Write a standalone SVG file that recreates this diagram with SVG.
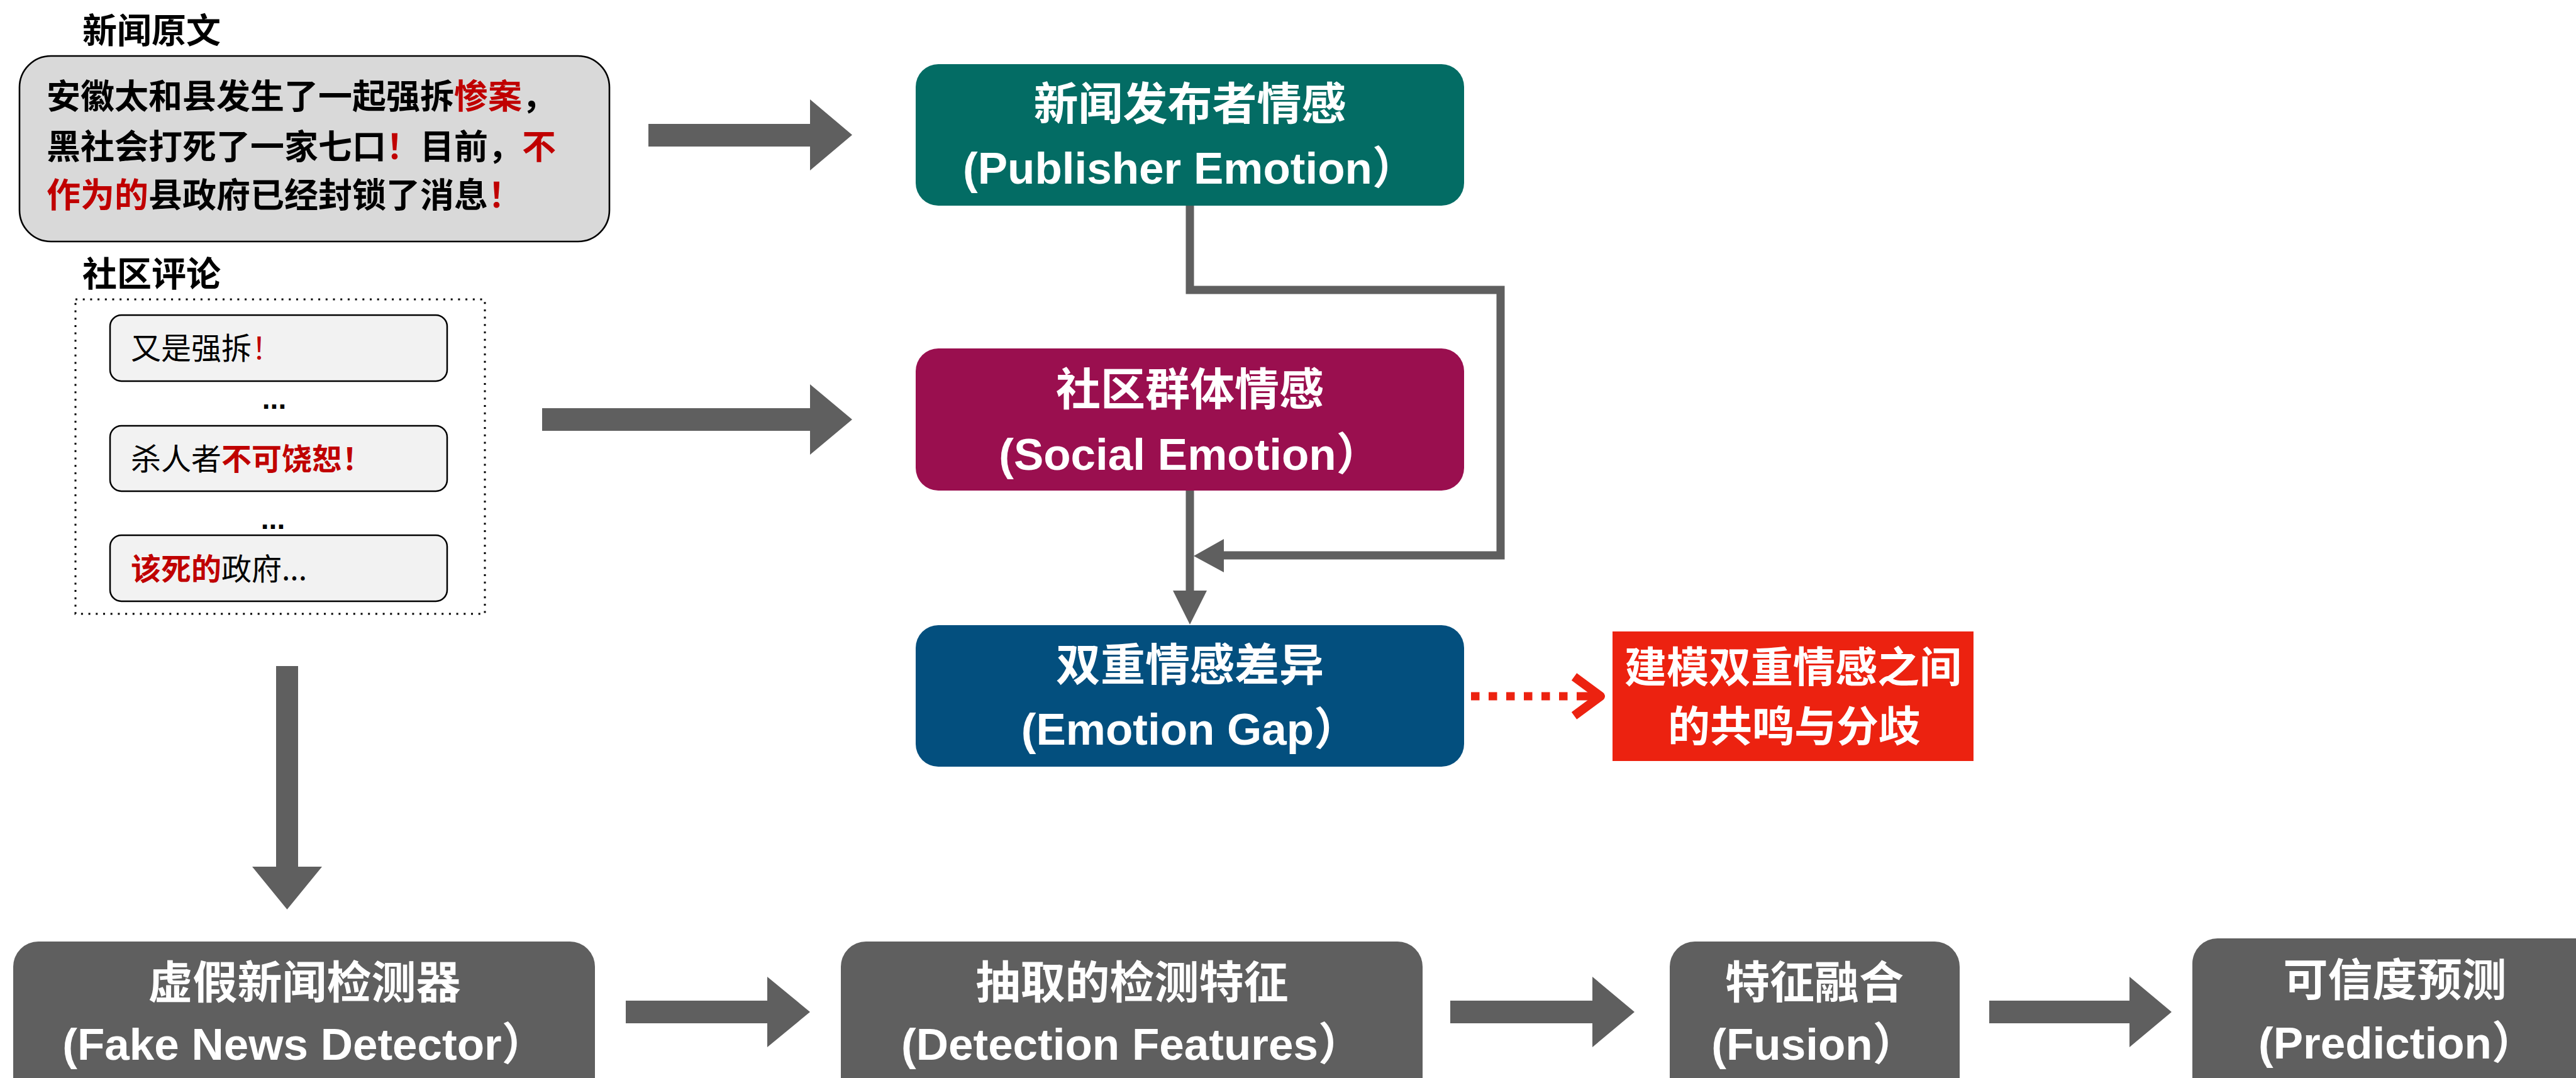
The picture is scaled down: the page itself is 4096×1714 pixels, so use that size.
<svg xmlns="http://www.w3.org/2000/svg" width="4096" height="1714" viewBox="0 0 4096 1714">
<style>
.lbl{font-family:"Noto Sans CJK SC",sans-serif;font-weight:bold;font-size:55px;fill:#000}
.news{font-family:"Noto Sans CJK SC",sans-serif;font-weight:bold;font-size:54px;fill:#000}
.red{fill:#c00000}
.cmt{font-family:"Noto Sans CJK SC",sans-serif;font-size:48px;fill:#000}
.cmtb{font-weight:bold;fill:#c00000}
.dots{font-family:"Liberation Sans",sans-serif;font-weight:bold;font-size:46px;fill:#000;text-anchor:middle}
.t{font-family:"Liberation Sans","Noto Sans CJK SC",sans-serif;font-weight:bold;font-size:71px;fill:#fff;text-anchor:middle}
.t2{font-family:"Liberation Sans","Noto Sans CJK SC",sans-serif;font-weight:bold;font-size:67px;fill:#fff;text-anchor:middle}
.cbox{fill:#f2f2f2;stroke:#000;stroke-width:2.5}
.big{fill:#5f5f5f}
.conn{fill:none;stroke:#5f5f5f;stroke-width:13;stroke-linejoin:miter}
</style>
<rect width="4096" height="1714" fill="#fff"/>

<g id="news">
<text class="lbl" x="131" y="68">新闻原文</text>
<rect x="31" y="89" width="938" height="295" rx="50" fill="#d9d9d9" stroke="#000" stroke-width="2.6"/>
<text class="news" x="74" y="173">安徽太和县发生了一起强拆<tspan class="red">惨案</tspan>，</text>
<text class="news" x="74" y="253">黑社会打死了一家七口<tspan class="red">！</tspan>目前，<tspan class="red">不</tspan></text>
<text class="news" x="74" y="330"><tspan class="red">作为的</tspan>县政府已经封锁了消息<tspan class="red">！</tspan></text>
</g>

<g id="comments">
<text class="lbl" x="131" y="455">社区评论</text>
<rect x="120" y="476" width="651" height="500" fill="none" stroke="#000" stroke-width="3" stroke-dasharray="3 8.7"/>
<rect class="cbox" x="175" y="501" width="536" height="105" rx="18"/>
<text class="cmt" x="208" y="571">又是强拆<tspan fill="#c00000">！</tspan></text>
<text class="dots" x="436" y="650">...</text>
<rect class="cbox" x="175" y="677" width="536" height="104" rx="18"/>
<text class="cmt" x="208" y="747">杀人者<tspan class="cmtb">不可饶恕！</tspan></text>
<text class="dots" x="434" y="841">...</text>
<rect class="cbox" x="175" y="851" width="536" height="105" rx="18"/>
<text class="cmt" x="208" y="922"><tspan class="cmtb">该死的</tspan>政府...</text>
</g>

<g id="publisher">
<rect x="1456" y="102" width="872" height="225" rx="36" fill="#036c64"/>
<text class="t" x="1892" y="190">新闻发布者情感</text>
<text class="t" x="1892" y="292">(Publisher Emotion）</text>
</g>

<g id="social">
<rect x="1456" y="554" width="872" height="226" rx="36" fill="#9a0f4f"/>
<text class="t" x="1892" y="644">社区群体情感</text>
<text class="t" x="1892" y="747">(Social Emotion）</text>
</g>

<g id="gap">
<rect x="1456" y="994" width="872" height="225" rx="36" fill="#034f7e"/>
<text class="t" x="1892" y="1082">双重情感差异</text>
<text class="t" x="1892" y="1184">(Emotion Gap）</text>
</g>

<g id="resonance">
<rect x="2564" y="1004" width="574" height="206" fill="#ec2210"/>
<text class="t2" x="2851" y="1085">建模双重情感之间</text>
<text class="t2" x="2853" y="1179">的共鸣与分歧</text>
</g>

<g id="detector">
<rect x="21" y="1497" width="925" height="260" rx="40" fill="#5f5f5f"/>
<text class="t" x="484" y="1587">虚假新闻检测器</text>
<text class="t" x="484" y="1685">(Fake News Detector）</text>
</g>

<g id="features">
<rect x="1337" y="1497" width="925" height="260" rx="40" fill="#5f5f5f"/>
<text class="t" x="1800" y="1587">抽取的检测特征</text>
<text class="t" x="1800" y="1685">(Detection Features）</text>
</g>

<g id="fusion">
<rect x="2655" y="1497" width="461" height="260" rx="40" fill="#5f5f5f"/>
<text class="t" x="2885" y="1587">特征融合</text>
<text class="t" x="2885" y="1685">(Fusion）</text>
</g>

<g id="prediction">
<rect x="3486" y="1492" width="680" height="265" rx="40" fill="#5f5f5f"/>
<text class="t" x="3808" y="1583">可信度预测</text>
<text class="t" x="3812" y="1683">(Prediction）</text>
</g>

<g id="connectors">
<polygon class="big" points="1031,197 1288,197 1288,158 1355,214.5 1288,271 1288,233 1031,233"/>
<polygon class="big" points="862,649 1288,649 1288,611 1355,667 1288,723 1288,685 862,685"/>
<polygon class="big" points="439,1059 474,1059 474,1378 512,1378 456.5,1446 401,1378 439,1378"/>
<polygon class="big" points="995,1591 1220,1591 1220,1553 1288,1609 1220,1665 1220,1627 995,1627"/>
<polygon class="big" points="2306,1591 2532,1591 2532,1553 2599,1609 2532,1665 2532,1627 2306,1627"/>
<polygon class="big" points="3163,1591 3386,1591 3386,1553 3453,1609 3386,1665 3386,1627 3163,1627"/>
<path class="conn" d="M1892,327 V461 H2386 V883 H1946"/>
<polygon class="big" points="1946,857 1898,884 1946,910"/>
<path class="conn" d="M1892,780 V942"/>
<polygon class="big" points="1865,939 1919,939 1892,993"/>
<line x1="2339" y1="1107" x2="2520" y2="1107" stroke="#ec2210" stroke-width="13" stroke-dasharray="13.5 14.5"/>
<polyline points="2503,1076 2545,1107 2503,1138" fill="none" stroke="#ec2210" stroke-width="14" stroke-linejoin="round"/>
<line x1="2520" y1="1107" x2="2540" y2="1107" stroke="#ec2210" stroke-width="13"/>
</g>
</svg>
